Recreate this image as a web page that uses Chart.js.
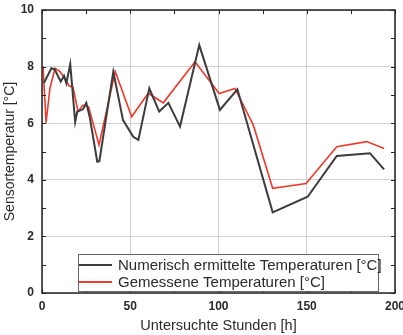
<!DOCTYPE html>
<html>
<head>
<meta charset="utf-8">
<script src="https://cdn.jsdelivr.net/npm/chart.js@4"></script>
<style>
  html, body { margin: 0; padding: 0; background: #fff; }
  #wrap { width: 403px; height: 335px; }
</style>
</head>
<body>
<div id="wrap"><canvas id="chart"></canvas></div>
<script>
// Numerisch ermittelte Temperaturen
const simHours = [1.1, 5.3, 7.2, 10.6, 12.5, 13.8, 16, 18.8, 20, 23.2, 25.1, 27, 31.3, 32.5, 40.4, 45.9, 51.7, 54.6, 60.8, 66.4, 71.6, 78.2, 89.1, 100.8, 110.7, 130.7, 150.5, 167, 185.8, 193.8];
const simTemps = [7.42, 7.94, 7.9, 7.47, 7.67, 7.41, 8.09, 6.05, 6.41, 6.49, 6.72, 6.23, 4.64, 4.66, 7.82, 6.11, 5.52, 5.41, 7.23, 6.41, 6.72, 5.88, 8.76, 6.47, 7.2, 2.85, 3.4, 4.84, 4.94, 4.37];

// Gemessene Temperaturen
const measHours = [0.6, 2.3, 4.5, 7.4, 10.2, 13, 15.3, 17.6, 20.4, 23.2, 26.4, 32.3, 41.5, 50.8, 60.2, 68.7, 86.7, 100.4, 109.3, 119.7, 130.7, 149.6, 167, 184, 193.8];
const measTemps = [8.0, 6.02, 7.23, 7.94, 7.82, 7.59, 7.32, 7.27, 6.41, 6.64, 6.58, 5.23, 7.82, 6.23, 7.06, 6.72, 8.17, 7.05, 7.23, 5.94, 3.7, 3.87, 5.17, 5.35, 5.11];

const seriesLabels = ['Numerisch ermittelte Temperaturen [°C]', 'Gemessene Temperaturen [°C]'];

const toPoints = (xs, ys) => xs.map((x, i) => ({ x: x, y: ys[i] }));

// Rahmen + innenliegende Ticks + Legende im Plot
const framePlugin = {
    id: 'frame',
    afterDraw(chart) {
        const { ctx, chartArea: a, scales } = chart;
        ctx.save();
        ctx.strokeStyle = '#222';
        ctx.lineWidth = 1.5;
        ctx.strokeRect(a.left, a.top, a.right - a.left, a.bottom - a.top);
        ctx.lineWidth = 1;
        ctx.beginPath();
        for (let v = 0; v <= 200; v += 25) {
            const px = Math.round(scales.x.getPixelForValue(v)) + 0.5;
            ctx.moveTo(px, a.bottom); ctx.lineTo(px, a.bottom - 4);
            ctx.moveTo(px, a.top); ctx.lineTo(px, a.top + 4);
        }
        for (let v = 0; v <= 10; v += 1) {
            const py = Math.round(scales.y.getPixelForValue(v)) + 0.5;
            ctx.moveTo(a.left, py); ctx.lineTo(a.left + 4, py);
            ctx.moveTo(a.right, py); ctx.lineTo(a.right - 4, py);
        }
        ctx.stroke();

        const box = { x: 78, y: 254, w: 300, h: 37 };
        ctx.fillStyle = '#fff';
        ctx.fillRect(box.x, box.y, box.w, box.h);
        ctx.strokeStyle = '#666';
        ctx.strokeRect(box.x + 0.5, box.y + 0.5, box.w, box.h);
        ctx.font = '15px "Liberation Sans", Arial, sans-serif';
        ctx.textBaseline = 'middle';
        chart.data.datasets.forEach((ds, i) => {
            const y = box.y + 11 + i * 17;
            ctx.strokeStyle = ds.borderColor;
            ctx.lineWidth = 2;
            ctx.beginPath();
            ctx.moveTo(box.x + 1, y); ctx.lineTo(box.x + 34, y);
            ctx.stroke();
            ctx.fillStyle = '#2a2a2a';
            ctx.fillText(ds.label, box.x + 40, y + 1);
        });
        ctx.restore();
    }
};

new Chart(document.getElementById('chart'), {
    type: 'line',
    data: {
        datasets: [
            { label: seriesLabels[0], data: toPoints(simHours, simTemps), borderColor: '#3c3c3c', borderWidth: 2, pointRadius: 0, tension: 0 },
            { label: seriesLabels[1], data: toPoints(measHours, measTemps), borderColor: '#f0392b', borderWidth: 1.6, pointRadius: 0, tension: 0 }
        ]
    },
    options: {
        responsive: true,
        maintainAspectRatio: false,
        animation: false,
        layout: { padding: { top: 10, right: 8 } },
        plugins: { legend: { display: false }, tooltip: { enabled: false } },
        scales: {
            x: {
                type: 'linear', min: 0, max: 200,
                ticks: { stepSize: 50, color: '#2a2a2a', padding: 6, font: { family: 'Liberation Sans', size: 12, weight: 'bold' } },
                grid: { color: '#d0d0d0', drawTicks: false },
                border: { display: false },
                title: { display: true, text: 'Untersuchte Stunden [h]', color: '#2a2a2a', padding: { top: 6, bottom: 0 }, font: { family: 'Liberation Sans', size: 14.5 } },
                afterFit(s) { s.paddingRight = 0; s.paddingLeft = 0; s.height = 42; }
            },
            y: {
                min: 0, max: 10,
                ticks: { stepSize: 2, color: '#2a2a2a', padding: 8, font: { family: 'Liberation Sans', size: 12, weight: 'bold' } },
                grid: { color: '#d0d0d0', drawTicks: false },
                border: { display: false },
                title: { display: true, text: 'Sensortemperatur [°C]', color: '#2a2a2a', padding: { top: 2, bottom: 2 }, font: { family: 'Liberation Sans', size: 14 } },
                afterFit(s) { s.width = 42; s.paddingTop = 0; s.paddingBottom = 0; }
            }
        }
    },
    plugins: [framePlugin]
});
</script>
</body>
</html>
